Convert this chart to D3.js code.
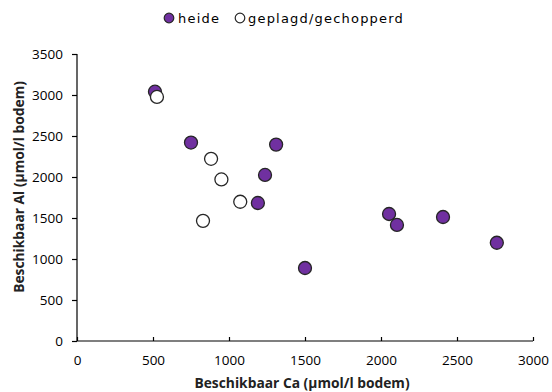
<!DOCTYPE html>
<html><head><meta charset="utf-8">
<script src="https://cdn.jsdelivr.net/npm/d3@7"></script>
<style>body{margin:0;background:#fff}svg{display:block}</style>
</head><body>
<script>
const seriesNames = ["heide", "geplagd/gechopperd"];
const heideCa = [513, 750, 1310, 1237, 1190, 1500, 2053, 2105, 2408, 2762];
const heideAl = [3040, 2420, 2395, 2025, 1683, 890, 1549, 1415, 1512, 1198];
const geplagdCa = [526, 882, 950, 1074, 829];
const geplagdAl = [2976, 2222, 1970, 1698, 1465];
const xTicks = [0, 500, 1000, 1500, 2000, 2500, 3000];
const yTicks = [0, 500, 1000, 1500, 2000, 2500, 3000, 3500];
const xTitle = "Beschikbaar Ca (µmol/l bodem)";
const yTitle = "Beschikbaar Al (µmol/l bodem)";

const W = 552, H = 392;
const svg = d3.select("body").append("svg").attr("width", W).attr("height", H);
const x = d3.scaleLinear().domain([0, 3000]).range([77, 533]);
const y = d3.scaleLinear().domain([0, 3500]).range([341, 54]);
const font = "'Open Sans', sans-serif";
const purple = "#7030A0", stroke = "#262626";

// axes
const gx = svg.append("g").attr("transform", "translate(0,341)")
  .call(d3.axisBottom(x).tickValues(xTicks).tickSize(-4).tickPadding(14).tickFormat(d3.format("d")));
const gy = svg.append("g").attr("transform", "translate(77,0)")
  .call(d3.axisLeft(y).tickValues(yTicks).tickSize(5).tickPadding(9).tickFormat(d3.format("d")));
[gx, gy].forEach(g => {
  g.select(".domain").attr("stroke", "#000").attr("stroke-width", 1.2);
  g.selectAll(".tick line").attr("stroke", "#000").attr("stroke-width", 1.2);
  g.selectAll("text").attr("font-family", font).attr("font-size", 13.5).attr("fill", "#000");
});
gx.select(".domain").attr("d", "M77,0H533");
gy.select(".domain").attr("d", "M0,54V341");

svg.append("text").attr("x", 302).attr("y", 388).attr("text-anchor", "middle")
  .attr("font-family", font).attr("font-size", 13.8).attr("font-weight", "bold").attr("fill", "#222")
  .text(xTitle);
svg.append("text").attr("transform", "translate(24,187) rotate(-90)").attr("text-anchor", "middle")
  .attr("font-family", font).attr("font-size", 13.8).attr("font-weight", "bold").attr("fill", "#222")
  .text(yTitle);

// points
const heide = heideCa.map((c, i) => ({ca: c, al: heideAl[i]}));
const gep = geplagdCa.map((c, i) => ({ca: c, al: geplagdAl[i]}));
svg.append("g").selectAll("circle").data(heide).join("circle")
  .attr("cx", d => x(d.ca)).attr("cy", d => y(d.al)).attr("r", 6.5)
  .attr("fill", purple).attr("stroke", stroke).attr("stroke-width", 1.3);
svg.append("g").selectAll("circle").data(gep).join("circle")
  .attr("cx", d => x(d.ca)).attr("cy", d => y(d.al)).attr("r", 6.5)
  .attr("fill", "#fff").attr("stroke", stroke).attr("stroke-width", 1.3);

// legend
const leg = [{name: seriesNames[0], fill: purple, cx: 169, tx: 178},
             {name: seriesNames[1], fill: "#fff", cx: 240, tx: 248}];
leg.forEach(l => {
  svg.append("circle").attr("cx", l.cx).attr("cy", 18).attr("r", 4.8)
    .attr("fill", l.fill).attr("stroke", stroke).attr("stroke-width", 1.2);
  svg.append("text").attr("x", l.tx).attr("y", 22.5)
    .attr("font-family", "'DejaVu Sans', sans-serif").attr("font-size", 13).attr("fill", "#000")
    .attr("letter-spacing", 1.2).text(l.name);
});
</script>
</body></html>
